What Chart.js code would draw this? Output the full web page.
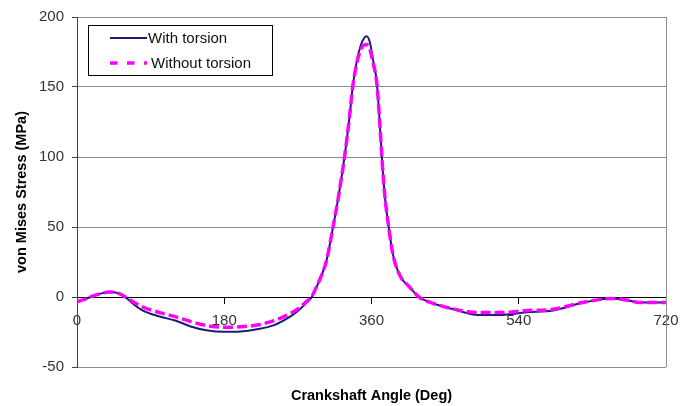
<!DOCTYPE html>
<html>
<head>
<meta charset="utf-8">
<script src="https://cdn.jsdelivr.net/npm/chart.js@4"></script>
<style>
  html, body { margin: 0; padding: 0; background: #fff; }
  #wrap { width: 680px; height: 406px; }
</style>
</head>
<body>
<div id="wrap"><canvas id="c" width="680" height="406"></canvas></div>
<script>
// ---- data ----
const angles = [0,10,20,30,40,50,60,70,80,100,120,140,160,180,200,220,240,260,270,280,287,293,300,305,313,320,327,333,337,342,347,351,354,358,362,365,367,370,373,376,381,386,390,397,405,418,435,460,490,517,550,582,615,640,652,672,688,720];
const withTorsion = [-3.3,-1.5,0.8,2.6,3.5,2.8,-0.5,-5.5,-9.5,-13.8,-16.8,-21.2,-24.0,-24.9,-24.6,-23.0,-20.3,-14.2,-10,-4.5,0,7.3,17,26,50,73,100,128,150,168.5,180,185,186.3,182,169,160,150,125,97,74,50,31,22,13,8,0,-4.5,-8.8,-12.8,-12.8,-10.9,-9.7,-4.5,-1.7,-1,-2.2,-4,-4];
const withoutTorsion = [-3.3,-1.5,0.8,2.6,3.5,2.8,-0.3,-4,-7,-11,-14,-17.7,-20.6,-21.6,-21.3,-20,-17,-12,-8.5,-3.5,0.5,7.5,17,26,50,73,100,128,150,167,177,180,180.3,177,167,159,150,125,97,74,50,31,22,13,8,0,-4.5,-8.5,-11.1,-11.1,-9.7,-8.8,-4.3,-1.7,-1,-2.2,-4,-4];
const seriesNames = ['With torsion', 'Without torsion'];
const xTicks = [0, 180, 360, 540, 720];
const yTicks = [-50, 0, 50, 100, 150, 200];
const xTitle = 'Crankshaft Angle (Deg)';
const yTitle = 'von Mises Stress (MPa)';

const FONT = '"Liberation Sans", Arial, sans-serif';
Chart.defaults.font.family = FONT;

const toPts = vals => angles.map((a, i) => ({ x: a, y: vals[i] }));

// custom in-plot legend + right border
const framePlugin = {
  id: 'frame',
  beforeDatasetsDraw(chart) {
    const { ctx, chartArea: a } = chart;
    ctx.save();
    ctx.strokeStyle = '#8c8c8c';
    ctx.lineWidth = 1;
    ctx.beginPath();
    ctx.moveTo(Math.round(a.right) + 0.5, a.top);
    ctx.lineTo(Math.round(a.right) + 0.5, a.bottom);
    ctx.stroke();
    ctx.restore();
  },
  afterDraw(chart) {
    const { ctx } = chart;
    const ds = chart.data.datasets;
    ctx.save();
    const bx = 88.5, by = 25.5, bw = 184, bh = 50;
    ctx.fillStyle = '#fff';
    ctx.fillRect(bx, by, bw, bh);
    ctx.strokeStyle = '#000';
    ctx.lineWidth = 1;
    ctx.strokeRect(bx, by, bw, bh);
    const rows = [38, 63];
    ds.forEach((d, i) => {
      const y = rows[i];
      ctx.beginPath();
      ctx.strokeStyle = d.borderColor;
      ctx.lineWidth = i === 0 ? 2 : 3.5;
      ctx.setLineDash(i === 0 ? [] : [7.5, 9.5]);
      ctx.moveTo(110, y);
      ctx.lineTo(147, y);
      ctx.stroke();
      ctx.setLineDash([]);
      ctx.fillStyle = '#111';
      ctx.font = '15px ' + FONT;
      ctx.textBaseline = 'middle';
      ctx.textAlign = 'left';
      ctx.fillText(d.label, i === 0 ? 148 : 151, y + 0.5);
    });
    ctx.restore();
  }
};

new Chart(document.getElementById('c'), {
  type: 'line',
  data: {
    datasets: [
      {
        label: seriesNames[0],
        data: toPts(withTorsion),
        borderColor: '#1c1c78',
        borderWidth: 2,
        pointRadius: 0,
        cubicInterpolationMode: 'monotone',
        order: 2
      },
      {
        label: seriesNames[1],
        data: toPts(withoutTorsion),
        borderColor: '#ff00ff',
        borderWidth: 3.5,
        borderDash: [10, 4],
        pointRadius: 0,
        cubicInterpolationMode: 'monotone',
        order: 1
      }
    ]
  },
  options: {
    responsive: false,
    animation: false,
    devicePixelRatio: 1,
    layout: { padding: { top: 16, right: 14, bottom: 0, left: 0 } },
    plugins: { legend: { display: false }, tooltip: { enabled: false } },
    scales: {
      x: {
        type: 'linear',
        min: 0, max: 720,
        position: { y: 0 },
        afterBuildTicks: s => { s.ticks = xTicks.map(v => ({ value: v })); },
        afterFit: s => { s.paddingLeft = 0; s.paddingRight = 0; },
        ticks: { font: { size: 15 }, color: '#333', padding: 9, maxRotation: 0 },
        grid: { drawOnChartArea: false, drawTicks: true, tickLength: 6, color: '#000' },
        border: { color: '#000', width: 1 }
      },
      xt: {
        type: 'linear',
        min: 0, max: 720,
        position: 'bottom',
        ticks: { display: false },
        afterFit: s => { s.paddingLeft = 0; s.paddingRight = 0; },
        grid: { display: false, drawTicks: false },
        border: { display: false },
        title: {
          display: true, text: xTitle, color: '#000',
          font: { size: 14.5, weight: 'bold' },
          padding: { top: 20.3, bottom: 1.3 }
        }
      },
      y: {
        type: 'linear',
        min: -50, max: 200,
        position: 'left',
        afterBuildTicks: s => { s.ticks = yTicks.map(v => ({ value: v })); },
        afterFit: s => { s.width = 77; },
        ticks: { font: { size: 15 }, color: '#333', padding: 8 },
        grid: { color: '#8c8c8c', lineWidth: 1, tickLength: 5, tickColor: '#444' },
        border: { color: '#444', width: 1 },
        title: {
          display: true, text: yTitle, color: '#000',
          font: { size: 14.5, weight: 'bold' },
          padding: { top: 12.8, bottom: 0 }
        }
      }
    }
  },
  plugins: [framePlugin]
});
</script>
</body>
</html>
